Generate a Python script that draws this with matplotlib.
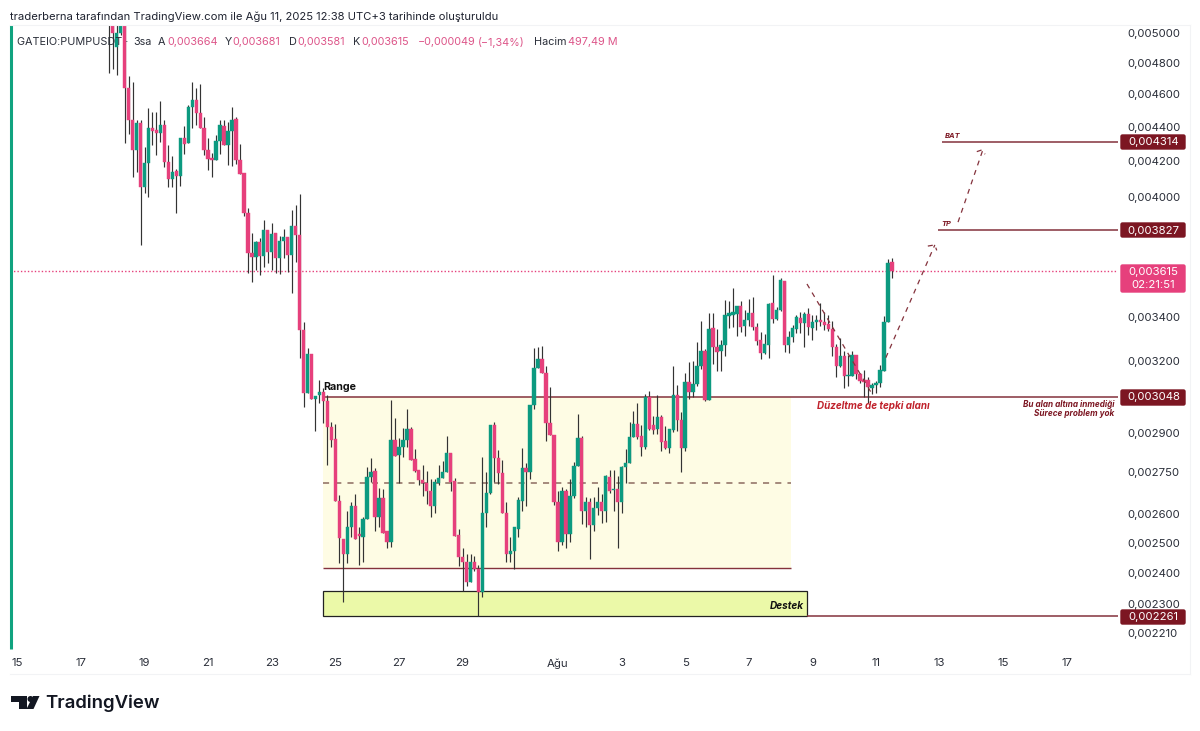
import numpy as np
import matplotlib
matplotlib.use("Agg")
import matplotlib.pyplot as plt
from matplotlib.patches import Rectangle, Circle, Polygon, FancyBboxPatch

plt.rcParams['font.family'] = ['Inter', 'DejaVu Sans']

# 3h candles, prices in 1e-6 USDT
first_day = 17.875
opens = [5200, 5180, 4905, 5000, 5120, 4640, 4445, 4265, 4425, 4055,
         4190, 4394, 4385, 4364, 4410, 4195, 4100, 4145, 4115, 4335,
         4305, 4520, 4565, 4485, 4395, 4265, 4220, 4205, 4318, 4405,
         4295, 4375, 4450, 4205, 4133, 3914, 3707, 3687, 3763, 3692,
         3825, 3712, 3809, 3680, 3770, 3788, 3695, 3846, 3799, 3338,
         3065, 3232, 3040, 3057, 3070, 3032, 2927, 2880, 2647, 2513,
         2463, 2552, 2626, 2528, 2520, 2580, 2733, 2757, 2590, 2655,
         2538, 2503, 2875, 2817, 2848, 2875, 2919, 2802, 2760, 2723,
         2712, 2680, 2626, 2712, 2730, 2753, 2825, 2720, 2527, 2450,
         2436, 2370, 2436, 2410, 2336, 2604, 2676, 2935, 2806, 2749,
         2604, 2460, 2473, 2548, 2647, 2768, 2753, 3016, 3170, 3210,
         3150, 2943, 2895, 2643, 2503, 2683, 2530, 2662, 2776, 2884,
         2608, 2643, 2562, 2622, 2643, 2608, 2733, 2686, 2690, 2643,
         2772, 2787, 2887, 2939, 2891, 2848, 3048, 2935, 2919, 2967,
         2872, 2844, 2915, 3057, 2955, 2844, 3110, 3070, 3102, 3180,
         3245, 3036, 3348, 3262, 3245, 3271, 3403, 3405, 3412, 3450,
         3358, 3385, 3417, 3353, 3294, 3236, 3271, 3464, 3390, 3431,
         3569, 3271, 3308, 3344, 3394, 3371, 3412, 3348, 3376, 3385,
         3376, 3367, 3344, 3262, 3180, 3223, 3137, 3137, 3227, 3146,
         3120, 3120, 3086, 3098, 3107, 3158, 3376, 3664]
highs = [5300, 5300, 5100, 5200, 5150, 4717, 4677, 4440, 4440, 4280,
         4515, 4490, 4490, 4558, 4445, 4295, 4230, 4155, 4335, 4405,
         4533, 4677, 4640, 4665, 4460, 4335, 4250, 4352, 4440, 4445,
         4430, 4520, 4460, 4300, 4133, 3940, 3809, 3770, 3783, 3876,
         3825, 3861, 3809, 3794, 3830, 3788, 3930, 3957, 4017, 3375,
         3258, 3232, 3052, 3120, 3085, 3057, 2947, 2939, 2668, 2513,
         2608, 2640, 2672, 2555, 2590, 2772, 2806, 2765, 2694, 2690,
         2540, 3036, 2963, 2884, 2923, 2998, 2925, 2840, 2760, 2780,
         2757, 2725, 2725, 2780, 2795, 2891, 2825, 2730, 2548, 2480,
         2463, 2463, 2453, 2426, 2810, 2753, 2935, 2947, 2836, 2798,
         2640, 2520, 2552, 2660, 2845, 2785, 3016, 3258, 3262, 3267,
         3180, 3090, 2895, 2680, 2698, 2690, 2727, 2790, 2979, 2890,
         2660, 2655, 2660, 2698, 2672, 2740, 2760, 2760, 2737, 2775,
         2840, 2947, 2990, 3024, 2935, 3061, 3073, 2971, 3057, 2975,
         2931, 2919, 3180, 3098, 2987, 3150, 3197, 3201, 3285, 3380,
         3253, 3417, 3417, 3344, 3294, 3478, 3473, 3535, 3450, 3473,
         3431, 3483, 3492, 3370, 3330, 3320, 3465, 3598, 3445, 3585,
         3569, 3335, 3360, 3405, 3420, 3420, 3440, 3408, 3408, 3464,
         3422, 3408, 3380, 3275, 3303, 3245, 3227, 3245, 3227, 3150,
         3163, 3130, 3105, 3115, 3184, 3403, 3677, 3681]
lows = [4735, 4760, 4722, 4990, 4305, 4358, 4110, 4140, 3750, 4022,
        4000, 4295, 4235, 4310, 4165, 4055, 4055, 3914, 4060, 4240,
        4305, 4395, 4410, 4395, 4235, 4150, 4110, 4205, 4240, 4295,
        4178, 4170, 4183, 4128, 3900, 3608, 3564, 3622, 3598, 3637,
        3657, 3622, 3608, 3603, 3680, 3612, 3511, 3662, 3215, 3008,
        3065, 3040, 2911, 3024, 2943, 2780, 2848, 2647, 2430, 2307,
        2430, 2520, 2513, 2425, 2436, 2580, 2715, 2538, 2552, 2534,
        2480, 2486, 2813, 2712, 2810, 2848, 2798, 2750, 2705, 2662,
        2633, 2590, 2604, 2705, 2730, 2750, 2680, 2524, 2420, 2340,
        2358, 2370, 2405, 2261, 2320, 2552, 2672, 2716, 2708, 2604,
        2436, 2436, 2413, 2520, 2610, 2626, 2725, 3000, 3170, 3150,
        2872, 2895, 2630, 2473, 2490, 2480, 2503, 2655, 2776, 2565,
        2552, 2446, 2538, 2597, 2569, 2572, 2675, 2608, 2480, 2604,
        2712, 2787, 2887, 2880, 2813, 2840, 2915, 2899, 2899, 2833,
        2840, 2825, 2905, 2911, 2753, 2830, 3040, 3048, 3095, 3165,
        3030, 3036, 3188, 3158, 3158, 3223, 3348, 3353, 3312, 3330,
        3312, 3358, 3340, 3271, 3210, 3230, 3215, 3371, 3385, 3425,
        3240, 3236, 3285, 3325, 3325, 3262, 3316, 3294, 3340, 3355,
        3340, 3335, 3223, 3133, 3175, 3086, 3094, 3135, 3125, 3107,
        3048, 3024, 3061, 3065, 3090, 3155, 3376, 3581]
closes = [5080, 5000, 5000, 5120, 4640, 4440, 4265, 4424, 4055, 4190,
          4394, 4375, 4364, 4410, 4195, 4100, 4140, 4115, 4335, 4298,
          4520, 4565, 4485, 4395, 4265, 4215, 4205, 4318, 4410, 4295,
          4375, 4445, 4205, 4128, 3914, 3707, 3687, 3763, 3692, 3825,
          3712, 3804, 3680, 3770, 3788, 3695, 3846, 3799, 3338, 3065,
          3232, 3040, 3052, 3070, 3032, 2927, 2875, 2647, 2517, 2460,
          2552, 2626, 2513, 2522, 2580, 2733, 2753, 2590, 2655, 2534,
          2503, 2875, 2813, 2848, 2875, 2919, 2798, 2757, 2723, 2712,
          2680, 2626, 2716, 2730, 2753, 2825, 2716, 2524, 2450, 2436,
          2370, 2436, 2410, 2336, 2604, 2676, 2935, 2806, 2749, 2604,
          2460, 2473, 2552, 2650, 2768, 2753, 3016, 3170, 3210, 3150,
          2943, 2895, 2643, 2503, 2683, 2530, 2662, 2776, 2884, 2608,
          2643, 2562, 2622, 2643, 2608, 2737, 2680, 2690, 2643, 2772,
          2787, 2887, 2939, 2887, 2848, 3048, 2919, 2915, 2967, 2868,
          2844, 2919, 3057, 2955, 2844, 3110, 3070, 3102, 3180, 3245,
          3036, 3344, 3262, 3240, 3271, 3408, 3417, 3420, 3450, 3353,
          3385, 3417, 3353, 3289, 3236, 3276, 3459, 3390, 3431, 3574,
          3271, 3308, 3348, 3398, 3371, 3412, 3353, 3376, 3385, 3376,
          3362, 3344, 3262, 3180, 3223, 3137, 3141, 3227, 3146, 3116,
          3112, 3090, 3098, 3107, 3163, 3376, 3657, 3615]

# axis labels
price_ticks = [5000, 4800, 4600, 4400, 4200, 4000, 3400, 3200, 2900,
               2750, 2600, 2500, 2400, 2300, 2210]
day_ticks = [15, 17, 19, 21, 23, 25, 27, 29, 32, 34, 36, 38, 40, 42, 44, 46, 48]
day_labels = ['15', '17', '19', '21', '23', '25', '27', '29', 'Ağu', '3', '5',
              '7', '9', '11', '13', '15', '17']

# drawings on the chart, as day / price pairs
range_top, range_mid, range_bottom = 3048, 2712, 2414
range_days = [24.61, 39.33]
support_top, support_bottom = 2340, 2261
support_days = [24.61, 39.83]
tp_price, tp_start = 3827, 43.95
bat_price, bat_start = 4314, 44.08
last_price = 3615
fall_days, fall_prices = [39.83, 41.87], [3554, 3061]
rise1_days, rise1_prices = [42.31, 43.85], [3215, 3748]
rise2_days, rise2_prices = [44.58, 45.36], [3866, 4265]
head1_days, head1_prices = [43.63, 43.85, 43.91], [3742, 3748, 3720]
head2_days, head2_prices = [45.17, 45.33, 45.43], [4255, 4265, 4240]

GREEN = '#0c9a80'
PINK = '#e6407c'
SOFT_PINK = '#dd5589'
WICK = '#333333'
DARKRED = '#7c1622'
LINE = '#84323c'
TEXT = '#2a2e39'
W, H = 1200, 731


def fmt_price(p):
    return f"{p / 1e6:.6f}".replace('.', ',')


fig = plt.figure(figsize=(W / 100, H / 100), dpi=100)
ax = fig.add_axes([10 / W, (H - 650) / H, 1108 / W, 625 / H])
ax.set_yscale('log')
ax.set_xlim(14.77, 49.61)
ax.set_ylim(2160, 5055)

o = np.array(opens)
c = np.array(closes)
days = first_day + np.arange(len(o)) / 8
colors = [GREEN if up else PINK for up in c >= o]

# zones go below the candles
ax.add_patch(Rectangle((range_days[0], range_bottom), range_days[1] - range_days[0],
                       range_top - range_bottom, fc='#fefce4', ec='none', zorder=1))
ax.add_patch(Rectangle((support_days[0], support_bottom), support_days[1] - support_days[0],
                       support_top - support_bottom, fc='#ebf9a8', ec='#222222', lw=0.9, zorder=1))
ax.hlines(range_top, range_days[0], 49.61, color=LINE, lw=1.1, zorder=2)
ax.hlines(range_bottom, range_days[0], range_days[1], color=LINE, lw=1.0, zorder=2)
ax.hlines(range_mid, range_days[0], range_days[1], color='#8c6a60', lw=1.1,
          linestyle=(0, (4, 4)), zorder=2)
ax.hlines(support_bottom, support_days[1], 49.61, color=LINE, lw=1.1, zorder=2)
ax.hlines(tp_price, tp_start, 49.61, color=LINE, lw=1.1, zorder=2)
ax.hlines(bat_price, bat_start, 49.61, color=LINE, lw=1.1, zorder=2)
ax.hlines(last_price, 14.77, 49.61, color=PINK, lw=1.0, linestyle=(0, (1, 1.5)), zorder=2)

ax.vlines(days, lows, highs, color=WICK, lw=0.85, zorder=3)
ax.bar(days, np.abs(c - o), bottom=np.minimum(o, c), width=0.105, color=colors,
       edgecolor=colors, lw=0.3, zorder=4)

for xs, ys in [(fall_days, fall_prices), (rise1_days, rise1_prices), (rise2_days, rise2_prices),
               (head1_days, head1_prices), (head2_days, head2_prices)]:
    ax.plot(xs, ys, color=LINE, lw=0.9, linestyle=(0, (4, 4)), zorder=5)

ax.set_xticks(day_ticks, day_labels)
ax.set_yticks(price_ticks, [fmt_price(p) for p in price_ticks])
ax.minorticks_off()
ax.yaxis.tick_right()
ax.tick_params(axis='y', length=0, pad=7, labelsize=8.2, labelcolor=TEXT)
ax.tick_params(axis='x', length=0, pad=6, labelsize=8.2, labelcolor=TEXT)
for s in ax.spines.values():
    s.set_visible(False)

ax.text(24.62, 3088, 'Range', fontsize=7.7, fontweight='bold', color='#111111', va='center', zorder=6)
ax.text(39.74, 2292, 'Destek', fontsize=7.2, fontweight='bold', style='italic', color='#111111',
        ha='right', va='center', zorder=6)
ax.text(40.15, 3010, 'Düzeltme de tepki alanı', fontsize=7.1, fontweight='bold', style='italic',
        color='#c0222c', va='center', zorder=6)
ax.text(49.5, 3015, 'Bu alan altına inmediği', fontsize=5.9, fontweight='bold', style='italic',
        color=DARKRED, ha='right', va='center', zorder=6)
ax.text(49.5, 2980, 'Sürece problem yok', fontsize=5.9, fontweight='bold', style='italic',
        color=DARKRED, ha='right', va='center', zorder=6)
ax.text(44.04, 3858, 'TP', fontsize=5.4, fontweight='bold', style='italic', color=DARKRED,
        va='center', zorder=6)
ax.text(44.17, 4345, 'BAT', fontsize=5.4, fontweight='bold', style='italic', color=DARKRED,
        va='center', zorder=6)

# page furniture in pixel coordinates
ov = fig.add_axes([0, 0, 1, 1], zorder=10)
ov.set_xlim(0, W)
ov.set_ylim(H, 0)
ov.axis('off')
ov.patch.set_alpha(0)

ov.plot([11, 11], [25, 649], color='#10a37f', lw=2.2, solid_capstyle='butt')
ov.plot([10, 1190], [25, 25], color='#f2f3f5', lw=0.8)
ov.plot([1190, 1190], [25, 674], color='#f2f3f5', lw=0.8)
ov.plot([10, 1190], [674, 674], color='#f2f3f5', lw=0.8)

ov.text(10, 16.5, 'traderberna tarafından TradingView.com ile Ağu 11, 2025 12:38 UTC+3 tarihinde oluşturuldu',
        fontsize=8.08, color='#1f2330', va='center')

hdr = [(17, 'GATEIO:PUMPUSDT ·', TEXT), (133, '3sa', TEXT),
       (158, 'A', TEXT), (167, '0,003664', SOFT_PINK), (225, 'Y', TEXT), (232, '0,003681', SOFT_PINK),
       (289, 'D', TEXT), (297, '0,003581', SOFT_PINK), (353, 'K', TEXT), (361, '0,003615', SOFT_PINK),
       (418, '−0,000049', SOFT_PINK), (478, '(−1,34%)', SOFT_PINK), (534, 'Hacim', TEXT),
       (568, '497,49 M', SOFT_PINK)]
for x, s, col in hdr:
    ov.text(x, 42, s, fontsize=7.8, color=col, va='center')


def price_tag(y0, y1, col, lines):
    ov.add_patch(FancyBboxPatch((1121, y0 + 1), 64, y1 - y0 - 2, boxstyle='round,pad=0,rounding_size=1.5',
                                fc=col, ec=col, lw=1))
    for y, s in lines:
        ov.text(1153.5, y, s, fontsize=8.2, color='white', ha='center', va='center')


price_tag(134, 150, DARKRED, [(142, fmt_price(bat_price))])
price_tag(222, 238, DARKRED, [(230.5, fmt_price(tp_price))])
price_tag(389, 406, DARKRED, [(397.5, fmt_price(range_top))])
price_tag(609, 625, DARKRED, [(617, fmt_price(support_bottom))])
price_tag(264, 293, PINK, [(272, fmt_price(last_price)), (285, '02:21:51')])

# logo
ov.add_patch(Polygon([(11, 696), (27, 696), (27, 709), (19, 709), (19, 702), (11, 702)], fc='#131722', ec='none'))
ov.add_patch(Circle((30.5, 699), 3, fc='#131722', ec='none'))
ov.add_patch(Polygon([(33, 696), (39.5, 696), (33.5, 709), (26.5, 709)], fc='#131722', ec='none'))
ov.text(45.5, 703, 'TradingView', fontsize=13.4, fontweight='semibold', color='#131722', va='center')

fig.savefig('out.png', dpi=100)
